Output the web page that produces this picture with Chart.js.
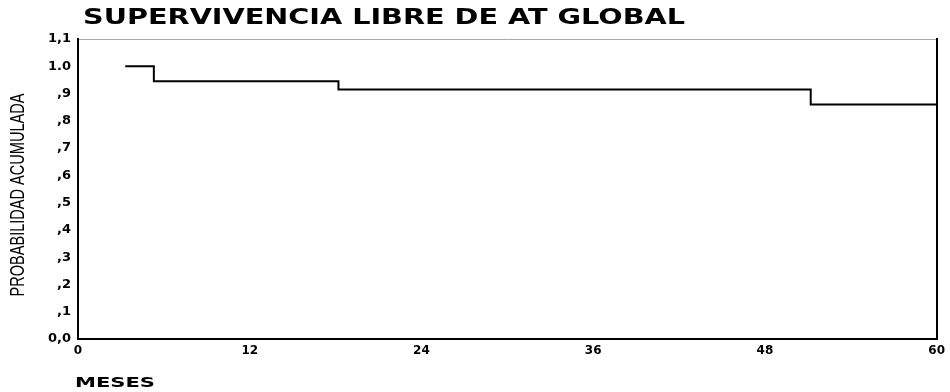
<!DOCTYPE html>
<html lang="es">
<head>
    <title>Supervivencia libre de AT global</title>
    <script src="https://cdn.jsdelivr.net/npm/chart.js"></script>
    <style>
        html, body { margin: 0; background: #fff; overflow: hidden; }
        #wrap { width: 950px; height: 392px; position: relative; }
        canvas { display: block; }
    </style>
</head>
<body>
    <div id="wrap"><canvas id="kmChart"></canvas></div>
    <script>
        // Kaplan-Meier steps
        const meses = [3.3, 5.3, 18.2, 51.2, 60];
        const probabilidad = [1.0, 0.945, 0.915, 0.86, 0.86];
        const xTicks = [0, 12, 24, 36, 48, 60];
        const yTickLabels = ['0,0', ',1', ',2', ',3', ',4', ',5', ',6', ',7', ',8', ',9', '1.0', '1,1'];
        const chartTitle = 'SUPERVIVENCIA LIBRE DE AT GLOBAL';
        const xTitle = 'MESES';
        const yTitle = 'PROBABILIDAD ACUMULADA';

        const wideBold = '"DejaVu Sans", Verdana, sans-serif';

        // draws text squeezed/stretched to a given width (the scan uses extended & narrow faces)
        function fitText(ctx, text, font, x, y, width, rotate) {
            ctx.save();
            ctx.font = font;
            ctx.fillStyle = '#000';
            ctx.textBaseline = 'middle';
            ctx.textAlign = 'center';
            const w = ctx.measureText(text).width;
            ctx.translate(x, y);
            if (rotate) ctx.rotate(-Math.PI / 2);
            ctx.scale(width / w, 1);
            ctx.fillText(text, 0, 0);
            ctx.restore();
        }

        const textPlugin = {
            id: 'scanText',
            afterDraw(chart) {
                const ctx = chart.ctx;
                fitText(ctx, chartTitle, 'bold 22px ' + wideBold, 384, 18, 602, false);
                fitText(ctx, xTitle, 'bold 14px ' + wideBold, 115, 383, 80, false);
                fitText(ctx, yTitle, '21px "Liberation Sans", Arial, sans-serif', 18, 195, 203, true);
            }
        };

        new Chart(document.getElementById('kmChart'), {
            type: 'line',
            data: {
                datasets: [{
                    data: meses.map((m, i) => ({ x: m, y: probabilidad[i] })),
                    borderColor: '#000',
                    borderWidth: 2,
                    pointRadius: 0,
                    stepped: true,
                    fill: false
                }]
            },
            options: {
                responsive: true,
                maintainAspectRatio: false,
                animation: false,
                layout: { padding: { top: 39, right: 6, bottom: 0, left: 0 } },
                plugins: { legend: { display: false }, tooltip: { enabled: false } },
                scales: {
                    x: {
                        type: 'linear',
                        min: 0, max: 60,
                        afterBuildTicks: s => { s.ticks = xTicks.map(v => ({ value: v })); },
                        afterFit: s => { s.height = 53; },
                        grid: { drawOnChartArea: false, drawTicks: false },
                        border: { color: '#000', width: 2 },
                        ticks: { color: '#000', font: { family: wideBold, weight: 'bold', size: 12 }, padding: 5, maxRotation: 0 }
                    },
                    x2: {
                        type: 'linear', position: 'top', min: 0, max: 60,
                        grid: { display: false },
                        ticks: { display: false },
                        border: { color: '#aaa', width: 1, dash: [3, 5] },
                        afterFit: s => { s.height = 0; }
                    },
                    y: {
                        min: 0, max: 1.1,
                        afterBuildTicks: s => { s.ticks = yTickLabels.map((t, i) => ({ value: i / 10 })); },
                        afterFit: s => { s.width = 78; },
                        grid: { drawOnChartArea: false, drawTicks: false },
                        border: { color: '#000', width: 2 },
                        ticks: {
                            color: '#000', font: { family: wideBold, weight: 'bold', size: 13 }, padding: 7,
                            callback: (v, i) => yTickLabels[i]
                        }
                    },
                    y2: {
                        position: 'right', min: 0, max: 1.1,
                        grid: { display: false },
                        ticks: { display: false },
                        border: { color: '#000', width: 2 },
                        afterFit: s => { s.width = 0; }
                    }
                }
            },
            plugins: [textPlugin]
        });
    </script>
</body>
</html>
